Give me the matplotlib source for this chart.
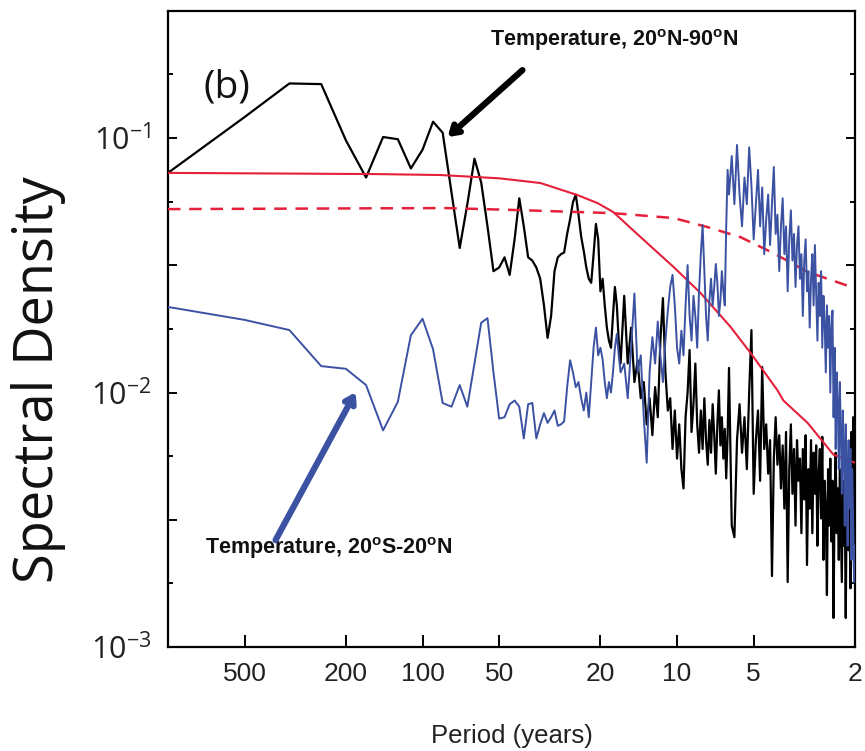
import numpy as np
import matplotlib
matplotlib.use("Agg")
import matplotlib.pyplot as plt
from matplotlib.ticker import FixedLocator, FuncFormatter, NullFormatter

# spectra are on the harmonic grid of a 1000-year record: period = 1000 / k
RECORD_YEARS = 1000
low_k = np.arange(1, 61)
mid_k = np.arange(62, 161, 2)
high_k = np.arange(164, 501, 4)

# Temperature, 20N-90N (black)
north_low = [0.073, 0.121, 0.164, 0.163, 0.098, 0.070, 0.101, 0.099, 0.076, 0.090,
             0.116, 0.105, 0.061, 0.037, 0.055, 0.083, 0.067, 0.045, 0.030, 0.031,
             0.034, 0.029, 0.040, 0.058, 0.045, 0.034, 0.033, 0.031, 0.028, 0.022,
             0.0164, 0.020, 0.030, 0.034, 0.035, 0.0355, 0.042, 0.048, 0.056, 0.060,
             0.050, 0.041, 0.036, 0.031, 0.028, 0.027, 0.035, 0.046, 0.040, 0.025,
             0.028, 0.022, 0.018, 0.016, 0.015, 0.020, 0.026, 0.022, 0.016, 0.013]
north_mid = [0.024, 0.013, 0.018, 0.011, 0.0134, 0.0095, 0.011, 0.0075, 0.0095, 0.0068,
             0.0105, 0.0080, 0.016, 0.0235, 0.012, 0.0085, 0.0095, 0.0060, 0.0085, 0.0055,
             0.0075, 0.0050, 0.0042, 0.0080, 0.0100, 0.0147, 0.0070, 0.0090, 0.0130, 0.0075,
             0.0058, 0.0085, 0.0060, 0.0095, 0.0065, 0.0052, 0.0078, 0.0058, 0.0090, 0.0068,
             0.0048, 0.0075, 0.0102, 0.0062, 0.0080, 0.0055, 0.0072, 0.0046, 0.0068, 0.0125]
north_high = [0.0030, 0.0027, 0.0065, 0.0090, 0.0058, 0.0080, 0.0050, 0.0100, 0.0176, 0.0040,
              0.0065, 0.0085, 0.0045, 0.0126, 0.0060, 0.0075, 0.0048, 0.0065, 0.0019, 0.0055,
              0.0080, 0.0052, 0.0068, 0.0042, 0.0062, 0.0035, 0.0070, 0.0018, 0.0050, 0.0075,
              0.0040, 0.0060, 0.0030, 0.0065, 0.0045, 0.0055, 0.0028, 0.0060, 0.0038, 0.0068,
              0.0021, 0.0050, 0.0035, 0.0065, 0.0028, 0.0058, 0.0040, 0.0062, 0.0025, 0.0048,
              0.0060, 0.0032, 0.0067, 0.0022, 0.0045, 0.0035, 0.0016, 0.0050, 0.0030, 0.0055,
              0.0026, 0.0045, 0.0013, 0.0040, 0.0058, 0.0028, 0.0042, 0.0022, 0.0050, 0.0030,
              0.0018, 0.0045, 0.0025, 0.0038, 0.0013, 0.0040, 0.0055, 0.0024, 0.0036, 0.0017,
              0.0070, 0.0030, 0.0080, 0.0020, 0.0035]

# Temperature, 20S-20N (blue)
tropics_low = [0.0217, 0.0193, 0.0176, 0.0127, 0.0124, 0.0107, 0.0071, 0.0092, 0.0168, 0.0195,
               0.0148, 0.0091, 0.0088, 0.0107, 0.0088, 0.0130, 0.0188, 0.0196, 0.0120, 0.0079,
               0.0080, 0.0090, 0.0093, 0.0088, 0.0066, 0.0090, 0.0091, 0.0066, 0.0075, 0.0083,
               0.0076, 0.0080, 0.0085, 0.0074, 0.0075, 0.0077, 0.0105, 0.0134, 0.0120, 0.0105,
               0.0110, 0.0095, 0.0085, 0.0100, 0.0080, 0.0110, 0.0150, 0.0180, 0.0140, 0.0150,
               0.0135, 0.0110, 0.0095, 0.0110, 0.0100, 0.0120, 0.0150, 0.0170, 0.0140, 0.0120]
tropics_mid = [0.0130, 0.0095, 0.0150, 0.0245, 0.0120, 0.0140, 0.0080, 0.0053, 0.0120, 0.0165,
               0.0130, 0.0190, 0.0140, 0.0110, 0.0160, 0.0210, 0.0260, 0.0290, 0.0220, 0.0150,
               0.0130, 0.0175, 0.0140, 0.0220, 0.0317, 0.0200, 0.0160, 0.0240, 0.0200, 0.0150,
               0.0250, 0.0350, 0.0455, 0.0300, 0.0200, 0.0160, 0.0230, 0.0280, 0.0220, 0.0260,
               0.0320, 0.0270, 0.0200, 0.0230, 0.0300, 0.0250, 0.0220, 0.0450, 0.0750, 0.0600]
tropics_high = [0.0850, 0.0550, 0.0940, 0.0600, 0.0450, 0.0700, 0.0550, 0.0920, 0.0650, 0.0400,
                0.0550, 0.0750, 0.0450, 0.0640, 0.0350, 0.0480, 0.0600, 0.0380, 0.0550, 0.0770,
                0.0420, 0.0500, 0.0300, 0.0450, 0.0580, 0.0350, 0.0450, 0.0250, 0.0400, 0.0520,
                0.0330, 0.0420, 0.0260, 0.0380, 0.0450, 0.0280, 0.0350, 0.0200, 0.0330, 0.0400,
                0.0250, 0.0300, 0.0180, 0.0280, 0.0350, 0.0220, 0.0380, 0.0250, 0.0160, 0.0270,
                0.0200, 0.0300, 0.0150, 0.0240, 0.0190, 0.0120, 0.0220, 0.0150, 0.0200, 0.0100,
                0.0180, 0.0210, 0.0080, 0.0150, 0.0060, 0.0120, 0.0090, 0.0050, 0.0110, 0.0070,
                0.0040, 0.0085, 0.0060, 0.0030, 0.0075, 0.0045, 0.0025, 0.0065, 0.0035, 0.0060,
                0.0022, 0.0050, 0.0030, 0.0018, 0.0025]

# red-noise fits (solid and dashed)
fit_solid_period = [1000, 300, 150, 85, 50, 34.4, 24.6, 20.5, 17.8, 13.9, 10.3, 8.08, 6.16,
                    5.14, 4.03, 3.82, 3.07, 2.43, 2.0]
fit_solid_value = [0.073, 0.0725, 0.0722, 0.0716, 0.0695, 0.0666, 0.0597, 0.0555, 0.0512,
                   0.0408, 0.0311, 0.0246, 0.0181, 0.0143, 0.0102, 0.0093, 0.0076, 0.0057, 0.0053]
fit_dashed_period = [1000, 81.2, 41.2, 17.8, 10.3, 7.59, 5.63, 4.18, 3.07, 2.0]
fit_dashed_value = [0.0526, 0.0531, 0.0521, 0.0507, 0.0485, 0.0447, 0.0408, 0.0353, 0.0298, 0.0257]

xtick_values = [500, 200, 100, 50, 20, 10, 5, 2]

BLUE = "#3b52a3"
RED = "#e4203a"
NARROW = ["Liberation Sans Narrow", "Liberation Sans", "DejaVu Sans"]
ROUND = ["Open Sans", "DejaVu Sans"]

k = np.concatenate([low_k, mid_k, high_k])
period = RECORD_YEARS / k
north = np.array(north_low + north_mid + north_high)
tropics = np.array(tropics_low + tropics_mid + tropics_high)

fig = plt.figure(figsize=(8.65, 7.51), dpi=100)
ax = fig.add_axes([0.1942, 0.1385, 0.7942, 0.847])

ax.plot(period, north, color="black", lw=1.6, zorder=2)
ax.plot(fit_solid_period, fit_solid_value, color=RED, lw=1.5, zorder=3)
ax.plot(fit_dashed_period, fit_dashed_value, color=RED, lw=1.8, ls=(0, (5, 3.5)), zorder=3)
ax.plot(period, tropics, color=BLUE, lw=1.4, zorder=4)

ax.set_xscale("log")
ax.set_yscale("log")
ax.set_xlim(1000, 2)
ax.set_ylim(1e-3, 10 ** -0.5)

ax.xaxis.set_major_locator(FixedLocator(xtick_values))
ax.xaxis.set_major_formatter(FuncFormatter(lambda v, p: "%g" % v))
ax.xaxis.set_minor_locator(FixedLocator([]))
ax.tick_params(axis="x", which="major", direction="in", length=9, width=1.4,
               pad=11, labelsize=19, labelcolor="#222222", labelfontfamily=NARROW,
               top=False)

ax.yaxis.set_major_locator(FixedLocator([10 ** e for e in np.arange(-3, -0.4, 0.5)]))
ax.yaxis.set_minor_locator(FixedLocator([10 ** e for e in np.arange(-2.75, -0.6, 0.5)]))


def decade_label(v, pos):
    e = np.log10(v)
    if abs(e - round(e)) < 1e-6:
        return r"$\mathregular{10^{%d}}$" % round(e)
    return ""


ax.yaxis.set_major_formatter(FuncFormatter(decade_label))
ax.yaxis.set_minor_formatter(NullFormatter())
ax.tick_params(axis="y", which="major", direction="in", length=6.5, width=1.4,
               pad=12, labelsize=22, labelcolor="#222222", labelfontfamily=ROUND,
               right=True)
ax.tick_params(axis="y", which="minor", direction="in", length=3.5, width=1.4, right=True)

for s in ax.spines.values():
    s.set_linewidth(1.6)

ax.set_xlabel("Period (years)", fontsize=18.5, family=NARROW, color="#222222", labelpad=27)
ax.set_ylabel("Spectral Density", fontsize=39, family=ROUND, color="#111111")
ax.yaxis.set_label_coords(-0.148, 0.42)

ax.text(0.051, 0.879, "(b)", transform=ax.transAxes, fontsize=28, family=ROUND,
        va="center", ha="left", color="#111111")

ax.text(0.469, 0.954, r"Temperature, 20$^{\mathregular{o}}$N-90$^{\mathregular{o}}$N",
        transform=ax.transAxes, fontsize=15.5, family=NARROW, weight="bold",
        va="center", ha="left", color="#111111")
ax.annotate("", xy=(79.7, 0.1009), xytext=(40.5, 0.185),
            arrowprops=dict(arrowstyle="->,head_length=0.55,head_width=0.35",
                            lw=4.5, color="black", shrinkA=0, shrinkB=0))

ax.text(0.054, 0.156, r"Temperature, 20$^{\mathregular{o}}$S-20$^{\mathregular{o}}$N",
        transform=ax.transAxes, fontsize=15.5, family=NARROW, weight="bold",
        va="center", ha="left", color="#111111")
ax.annotate("", xy=(183, 0.01004), xytext=(378, 0.00263),
            arrowprops=dict(arrowstyle="->,head_length=0.55,head_width=0.35",
                            lw=4.5, color=BLUE, shrinkA=0, shrinkB=0))

fig.savefig("out.png", dpi=100)
